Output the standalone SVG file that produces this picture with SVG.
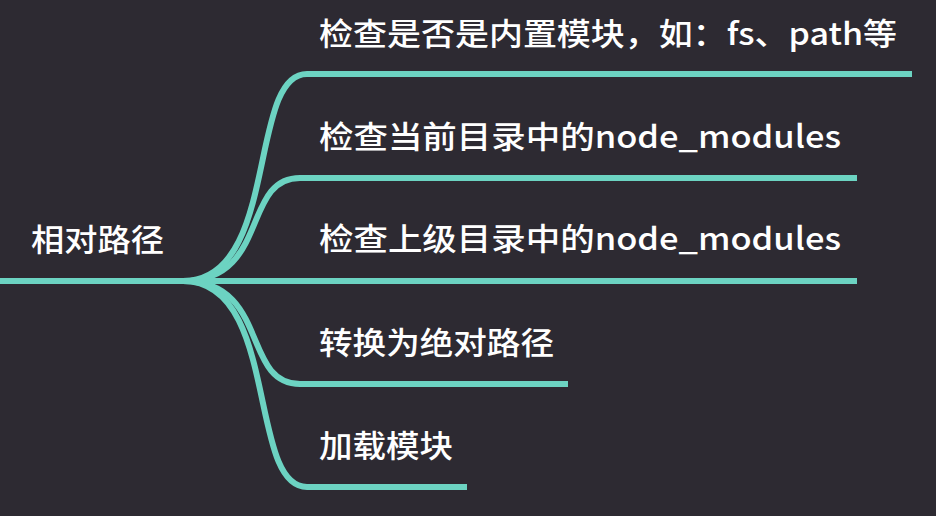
<svg xmlns="http://www.w3.org/2000/svg" width="936" height="516" viewBox="0 0 936 516">
<style>
.bg{fill:#2d2a32}
.edge{fill:none;stroke:#6cd3c2;stroke-width:6;stroke-linecap:butt}
.lbl{font-family:"Noto Sans CJK SC","Noto Sans",sans-serif;font-size:31px;font-weight:500;fill:#ffffff}
</style>
<rect class="bg" x="0" y="0" width="936" height="516"/>
<g id="connectors">
<path class="edge" d="M0,281 H190"/>
<path class="edge" d="M183,281 C280,281 247,74 307,74 H912"/>
<path class="edge" d="M183,281 C270,281 241,178 300,178 H857"/>
<path class="edge" d="M183,281 H857"/>
<path class="edge" d="M183,281 C270,281 241,384 300,384 H568"/>
<path class="edge" d="M183,281 C280,281 247,487 307,487 H467"/>
</g>
<g id="root"><text class="lbl" x="31" y="251" textLength="133" lengthAdjust="spacingAndGlyphs">相对路径</text></g>
<g id="n1"><text class="lbl" x="319" y="45" textLength="578" lengthAdjust="spacingAndGlyphs">检查是否是内置模块，如：fs、path等</text></g>
<g id="n2"><text class="lbl" x="319" y="148" textLength="522" lengthAdjust="spacingAndGlyphs">检查当前目录中的node_modules</text></g>
<g id="n3"><text class="lbl" x="319" y="250" textLength="522" lengthAdjust="spacingAndGlyphs">检查上级目录中的node_modules</text></g>
<g id="n4"><text class="lbl" x="319" y="354" textLength="235" lengthAdjust="spacingAndGlyphs">转换为绝对路径</text></g>
<g id="n5"><text class="lbl" x="319" y="457" textLength="134" lengthAdjust="spacingAndGlyphs">加载模块</text></g>
</svg>
